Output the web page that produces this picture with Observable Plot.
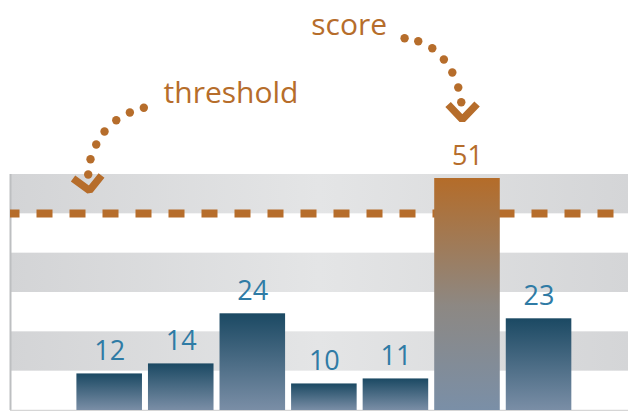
<!DOCTYPE html>
<html><head><meta charset="utf-8">
<script src="https://cdn.jsdelivr.net/npm/d3@7"></script>
<script src="https://cdn.jsdelivr.net/npm/@observablehq/plot@0.6"></script>
<style>html,body{margin:0;padding:0;background:#fff;}</style>
</head><body><div id="chart"></div>
<script>
// ---- data ----
const positions = [1, 2, 3, 4, 5, 6, 7];
const values = [12, 14, 24, 10, 11, 51, 23];
const highlighted = [false, false, false, false, false, true, false];
const thresholdValue = 44;
const bandLows = [12.55, 28.25, 43.95];
const bandHighs = [20.4, 36.1, 51.8];
const yDomain = [4.7, 51.8];
const xDomain = [-0.386, 8.25];

// annotations (data units)
const labelTexts = ["threshold", "score"];
const labelX = [1.753, 3.817];
const labelY = [65.97, 79.68];
const thresholdDotX = [1.477, 1.282, 1.092, 0.928, 0.812, 0.732, 0.700];
const thresholdDotY = [65.11, 64.17, 62.64, 60.38, 57.79, 54.85, 51.8];
const scoreDotX = [5.121, 5.312, 5.508, 5.670, 5.788, 5.871, 5.913];
const scoreDotY = [79.0, 78.4, 77.01, 74.75, 72.16, 69.16, 66.23];
const thresholdHeadX = [0.488, 0.718, 0.886];
const thresholdHeadY = [51.0, 48.61, 51.6];
const scoreHeadX = [5.729, 5.927, 6.134];
const scoreHeadY = [65.77, 62.78, 65.87];

const orange = "#b66d2b";
const blue = "#2f7ba5";
const font = "Open Sans";

// ---- tables ----
const bars = positions.map((p, i) => ({pos: p, value: values[i], hi: highlighted[i]}));
const bands = bandLows.map((lo, i) => ({lo, hi: bandHighs[i]}));
const labels = labelTexts.map((t, i) => ({text: t, x: labelX[i], y: labelY[i]}));
const dots = [
  ...thresholdDotX.map((x, i) => ({x, y: thresholdDotY[i]})),
  ...scoreDotX.map((x, i) => ({x, y: scoreDotY[i]}))
];
const heads = [
  ...thresholdHeadX.map((x, i) => ({arrow: "threshold", x, y: thresholdHeadY[i]})),
  ...scoreHeadX.map((x, i) => ({arrow: "score", x, y: scoreHeadY[i]}))
];

function gradientDefs() {
  const g = d3.create("svg:g");
  const defs = g.append("defs");
  const band = defs.append("linearGradient").attr("id", "bandGrad")
    .attr("x1", 0).attr("x2", 1).attr("y1", 0).attr("y2", 0);
  band.append("stop").attr("offset", "0%").attr("stop-color", "#d3d4d6");
  band.append("stop").attr("offset", "50%").attr("stop-color", "#e4e5e6");
  band.append("stop").attr("offset", "100%").attr("stop-color", "#d4d5d7");
  const bar = defs.append("linearGradient").attr("id", "barGrad")
    .attr("x1", 0).attr("x2", 0).attr("y1", 0).attr("y2", 1);
  bar.append("stop").attr("offset", "0%").attr("stop-color", "#1b4963");
  bar.append("stop").attr("offset", "100%").attr("stop-color", "#7a8ea6");
  const hi = defs.append("linearGradient").attr("id", "hiGrad")
    .attr("x1", 0).attr("x2", 0).attr("y1", 0).attr("y2", 1);
  hi.append("stop").attr("offset", "0%").attr("stop-color", "#b46c29");
  hi.append("stop").attr("offset", "55%").attr("stop-color", "#8d8883");
  hi.append("stop").attr("offset", "100%").attr("stop-color", "#7a8fa7");
  return g.node();
}

const chart = Plot.plot({
  width: 628,
  height: 411,
  marginTop: 174,
  marginBottom: 1,
  marginLeft: 10,
  marginRight: 0,
  x: {domain: xDomain, axis: null},
  y: {domain: yDomain, axis: null},
  color: {type: "identity"},
  style: {fontFamily: font, background: "white"},
  marks: [
    gradientDefs,
    Plot.rectY(bands, {y1: "lo", y2: "hi", fill: "url(#bandGrad)"}),
    Plot.ruleX([xDomain[0]], {stroke: "#bdbfc1", strokeWidth: 2}),
    Plot.ruleY([yDomain[0]], {stroke: "#d6d6d6", strokeWidth: 1.5}),
    Plot.ruleY([thresholdValue], {stroke: orange, strokeWidth: 8, strokeDasharray: "16,17", strokeDashoffset: 6.5}),
    Plot.rectY(bars.filter(d => !d.hi), {x1: d => d.pos - 0.5, x2: d => d.pos + 0.5, y1: yDomain[0], y2: "value", insetLeft: 3, insetRight: 3, fill: "url(#barGrad)"}),
    Plot.rectY(bars.filter(d => d.hi), {x1: d => d.pos - 0.5, x2: d => d.pos + 0.5, y1: yDomain[0], y2: "value", insetLeft: 3, insetRight: 3, fill: "url(#hiGrad)"}),
    Plot.text(bars, {x: "pos", y: "value", text: d => String(d.value), dy: -13.5, lineAnchor: "bottom", fontSize: 27, fontFamily: font, fill: d => d.hi ? orange : blue}),
    Plot.text(labels, {x: "x", y: "y", text: "text", textAnchor: "start", lineAnchor: "bottom", fontSize: 30, fontFamily: font, fill: orange}),
    Plot.dot(dots, {x: "x", y: "y", r: 4.2, fill: orange}),
    Plot.line(heads, {x: "x", y: "y", z: "arrow", stroke: orange, strokeWidth: 7.5, strokeLinejoin: "miter", strokeLinecap: "butt"})
  ]
});
document.getElementById("chart").appendChild(chart);
</script>
</body></html>
